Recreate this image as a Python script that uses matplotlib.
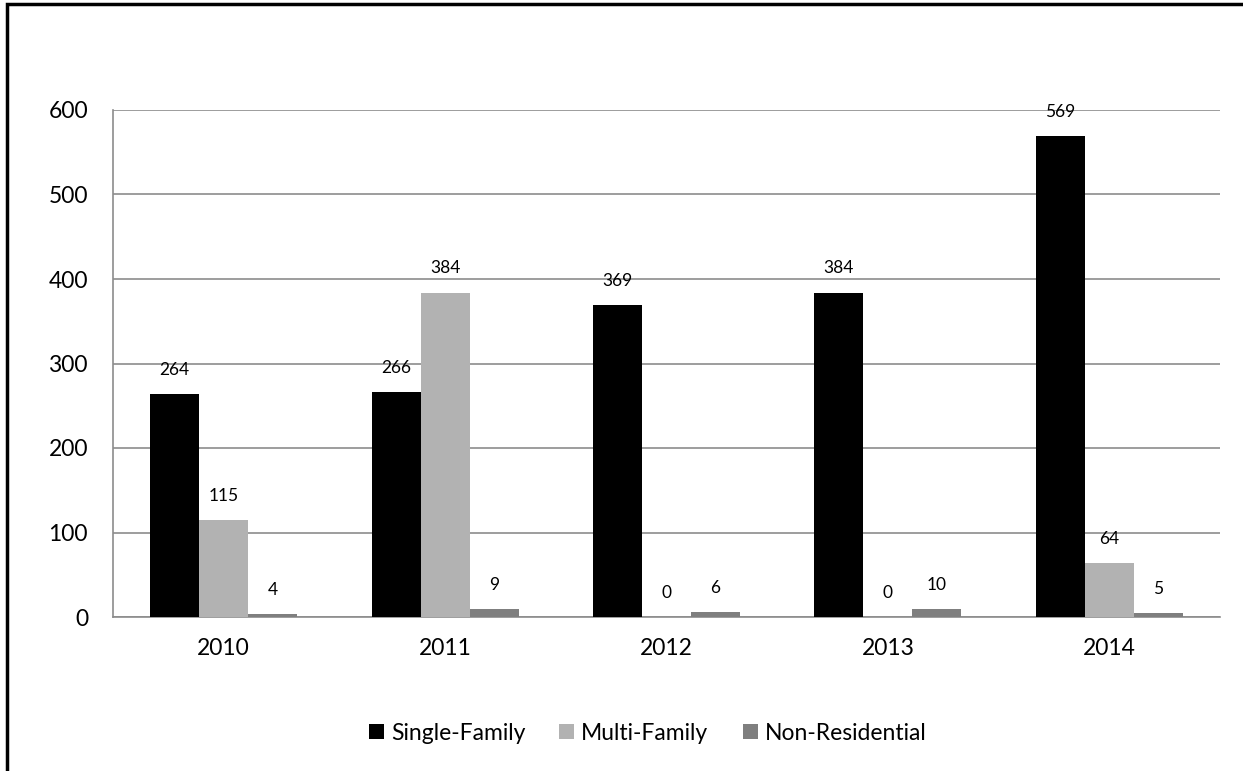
import matplotlib
matplotlib.use("Agg")
import matplotlib.pyplot as plt
import numpy as np
from matplotlib.lines import Line2D

years = ["2010", "2011", "2012", "2013", "2014"]
single_family = [264, 266, 369, 384, 569]
multi_family = [115, 384, 0, 0, 64]
non_residential = [4, 9, 6, 10, 5]
series_names = ["Single-Family", "Multi-Family", "Non-Residential"]
colors = ["#000000", "#b2b2b2", "#7f7f7f"]

plt.rcParams['font.family'] = ['Lato', 'DejaVu Sans']

W, H = 1243, 771
fig = plt.figure(figsize=(W / 100, H / 100), dpi=100)
ax = fig.add_axes([113 / W, 1 - 617 / H, (1220 - 113) / W, (617 - 110) / H])

# figure border: only left and top edges lie inside the image
fig.add_artist(Line2D([7 / W, 7 / W, 1.0], [0.0, 1 - 4 / H, 1 - 4 / H],
                      transform=fig.transFigure, color="black", linewidth=2.5,
                      solid_joinstyle="miter"))

x = np.arange(len(years))
bw = 0.2213
data = [single_family, multi_family, non_residential]
for i, (vals, name, c) in enumerate(zip(data, series_names, colors)):
    pos = x + (i - 1) * bw
    ax.bar(pos, vals, width=bw, color=c, label=name, zorder=3)
    for xp, v in zip(pos, vals):
        ax.annotate(str(v), (xp, v), xytext=(0, 17.3), textcoords="offset points",
                    ha="center", va="center", fontsize=12.5, color="black", zorder=4)

ax.set_xlim(-0.5, len(years) - 0.5)
ax.set_ylim(0, 600)
ax.set_yticks(range(0, 601, 100))
ax.set_xticks(x)
ax.set_xticklabels(years)
ax.tick_params(axis="both", length=0, labelsize=16.5, colors="black")
ax.tick_params(axis="y", pad=18)
ax.tick_params(axis="x", pad=15)
ax.yaxis.grid(True, color="#8c8c8c", linewidth=1.2, zorder=0)
ax.set_axisbelow(True)
for s in ["top", "right"]:
    ax.spines[s].set_visible(False)
for s in ["left", "bottom"]:
    ax.spines[s].set_color("#8c8c8c")
    ax.spines[s].set_linewidth(1.2)

leg = fig.legend(loc="center", bbox_to_anchor=(0.521, 1 - 733 / H), ncol=3, frameon=False,
                 fontsize=16.5, handlelength=0.65, handleheight=0.65, handletextpad=0.3,
                 columnspacing=1.5)

fig.savefig("out.png", dpi=100)
